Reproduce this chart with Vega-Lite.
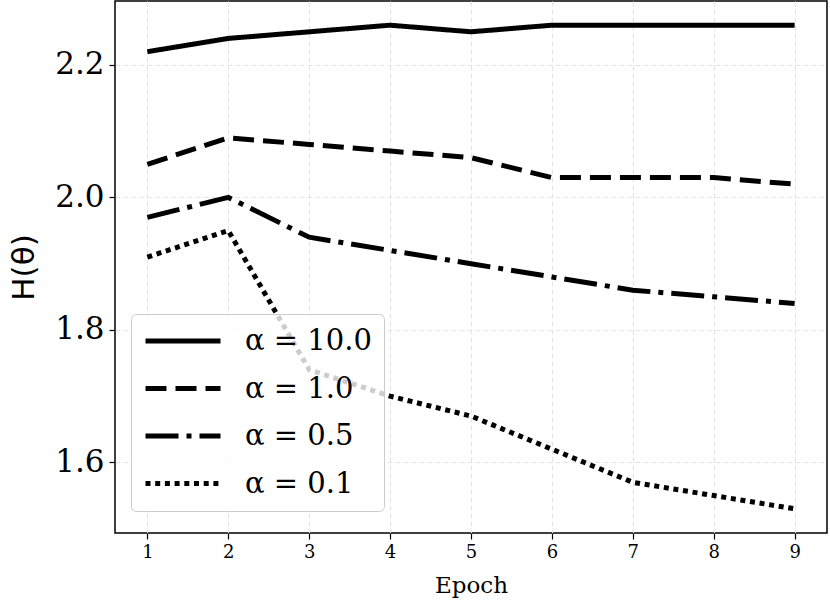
{
  "$schema": "https://vega.github.io/schema/vega-lite/v6.json",
  "width": 712,
  "height": 532,
  "autosize": {"type": "none"},
  "padding": {"left": 115, "top": 1, "right": 3, "bottom": 70},
  "background": "white",
  "data": {
    "values": [
      {"epoch": 1, "H": 2.22, "alpha": "α = 10.0"},
      {"epoch": 2, "H": 2.24, "alpha": "α = 10.0"},
      {"epoch": 3, "H": 2.25, "alpha": "α = 10.0"},
      {"epoch": 4, "H": 2.26, "alpha": "α = 10.0"},
      {"epoch": 5, "H": 2.25, "alpha": "α = 10.0"},
      {"epoch": 6, "H": 2.26, "alpha": "α = 10.0"},
      {"epoch": 7, "H": 2.26, "alpha": "α = 10.0"},
      {"epoch": 8, "H": 2.26, "alpha": "α = 10.0"},
      {"epoch": 9, "H": 2.26, "alpha": "α = 10.0"},
      {"epoch": 1, "H": 2.05, "alpha": "α = 1.0"},
      {"epoch": 2, "H": 2.09, "alpha": "α = 1.0"},
      {"epoch": 3, "H": 2.08, "alpha": "α = 1.0"},
      {"epoch": 4, "H": 2.07, "alpha": "α = 1.0"},
      {"epoch": 5, "H": 2.06, "alpha": "α = 1.0"},
      {"epoch": 6, "H": 2.03, "alpha": "α = 1.0"},
      {"epoch": 7, "H": 2.03, "alpha": "α = 1.0"},
      {"epoch": 8, "H": 2.03, "alpha": "α = 1.0"},
      {"epoch": 9, "H": 2.02, "alpha": "α = 1.0"},
      {"epoch": 1, "H": 1.97, "alpha": "α = 0.5"},
      {"epoch": 2, "H": 2.0, "alpha": "α = 0.5"},
      {"epoch": 3, "H": 1.94, "alpha": "α = 0.5"},
      {"epoch": 4, "H": 1.92, "alpha": "α = 0.5"},
      {"epoch": 5, "H": 1.9, "alpha": "α = 0.5"},
      {"epoch": 6, "H": 1.88, "alpha": "α = 0.5"},
      {"epoch": 7, "H": 1.86, "alpha": "α = 0.5"},
      {"epoch": 8, "H": 1.85, "alpha": "α = 0.5"},
      {"epoch": 9, "H": 1.84, "alpha": "α = 0.5"},
      {"epoch": 1, "H": 1.91, "alpha": "α = 0.1"},
      {"epoch": 2, "H": 1.95, "alpha": "α = 0.1"},
      {"epoch": 3, "H": 1.74, "alpha": "α = 0.1"},
      {"epoch": 4, "H": 1.7, "alpha": "α = 0.1"},
      {"epoch": 5, "H": 1.67, "alpha": "α = 0.1"},
      {"epoch": 6, "H": 1.62, "alpha": "α = 0.1"},
      {"epoch": 7, "H": 1.57, "alpha": "α = 0.1"},
      {"epoch": 8, "H": 1.55, "alpha": "α = 0.1"},
      {"epoch": 9, "H": 1.53, "alpha": "α = 0.1"}
    ]
  },
  "mark": {"type": "line", "color": "black", "strokeWidth": 5, "strokeCap": "butt"},
  "encoding": {
    "x": {
      "field": "epoch",
      "type": "quantitative",
      "scale": {"domain": [0.6, 9.4], "nice": false, "zero": false},
      "axis": {
        "values": [1, 2, 3, 4, 5, 6, 7, 8, 9],
        "title": "Epoch",
        "labelFontSize": 18,
        "labelPadding": 4,
        "titleFontSize": 23,
        "titleY": 52,
        "titleBaseline": "middle"
      }
    },
    "y": {
      "field": "H",
      "type": "quantitative",
      "scale": {"domain": [1.4935, 2.2965], "nice": false, "zero": false},
      "axis": {
        "values": [1.6, 1.8, 2.0, 2.2],
        "format": ".1f",
        "title": "H(θ)",
        "labelFontSize": 31,
        "labelPadding": 5,
        "titleFont": "DejaVu Sans",
        "titleFontSize": 31,
        "titleAngle": -90,
        "titleX": -91,
        "titleY": 266,
        "titleAlign": "center",
        "titleBaseline": "middle"
      }
    },
    "strokeDash": {
      "field": "alpha",
      "type": "nominal",
      "scale": {
        "domain": ["α = 10.0", "α = 1.0", "α = 0.5", "α = 0.1"],
        "range": [[1, 0], [21, 9], [33, 8, 5, 8], [5, 4.7]]
      },
      "legend": {
        "title": null,
        "orient": "none",
        "legendX": 16,
        "legendY": 313,
        "padding": 12,
        "symbolType": "M-1,0H5",
        "symbolSize": 625,
        "symbolStrokeWidth": 5,
        "symbolStrokeColor": "black",
        "labelOffset": 72,
        "labelFont": "DejaVu Serif",
        "labelFontSize": 29,
        "rowPadding": 17.5,
        "fillColor": "rgba(255,255,255,0.8)",
        "strokeColor": "#cccccc",
        "cornerRadius": 5
      }
    }
  },
  "config": {
    "font": "DejaVu Serif",
    "view": {"stroke": "black", "strokeWidth": 1.5},
    "axis": {
      "domain": false,
      "grid": true,
      "gridColor": "#e3e3e3",
      "gridDash": [5, 3],
      "gridWidth": 1,
      "ticks": true,
      "tickColor": "black",
      "tickSize": 6,
      "tickWidth": 1.2,
      "labelColor": "black",
      "labelFont": "DejaVu Serif",
      "titleColor": "black",
      "titleFont": "DejaVu Serif",
      "titleFontWeight": "normal"
    }
  }
}
